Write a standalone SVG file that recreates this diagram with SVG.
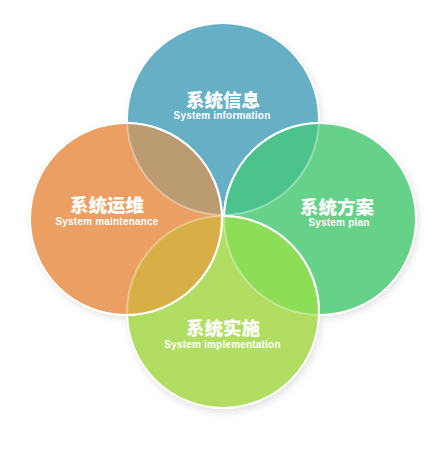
<svg xmlns="http://www.w3.org/2000/svg" width="445" height="455" viewBox="0 0 445 455">
<defs>
<filter id="sh" x="-20%" y="-20%" width="140%" height="140%"><feGaussianBlur stdDeviation="4"/></filter>
<style>
.c{stroke:#fff;stroke-width:2}
.zh{font-family:"Noto Sans CJK SC","Noto Sans",sans-serif;font-weight:900;font-size:18.5px;fill:#fff;text-anchor:middle}
.en{font-family:"Liberation Sans",Arial,sans-serif;font-weight:bold;font-size:10px;fill:#fff;text-anchor:middle;letter-spacing:0.2px}
.solid{fill:none;stroke:#fff;stroke-width:2}
.soft{fill:none;stroke:#fff;stroke-opacity:0.35;stroke-width:2}
</style>
</defs>
<rect width="445" height="455" fill="#fff"/>
<g id="shadow" fill="#000" opacity="0.12" filter="url(#sh)">
<circle cx="225" cy="122" r="96"/><circle cx="128" cy="222" r="96"/><circle cx="322" cy="222" r="96"/><circle cx="225" cy="316" r="96"/>
</g>
<g id="node-info"><circle class="c" cx="223" cy="119" r="96" fill="#66afc4"/></g>
<g id="node-plan"><circle class="c" cx="320" cy="219" r="96" fill="#66d188"/></g>
<g id="node-impl"><circle class="c" cx="223" cy="312" r="96" fill="#b1de62"/></g>
<g id="node-maint"><circle class="c" cx="126" cy="219" r="96" fill="#eb9f63"/></g>
<g id="overlaps">
<path d="M127.1,123 A96,96 0 0 0 221.9,215 A96,96 0 0 0 127.1,123Z" fill="#bb9c72"/>
<path d="M318.9,123 A96,96 0 0 1 224.1,215 A96,96 0 0 1 318.9,123Z" fill="#4cc38c"/>
<path d="M221.9,216 A96,96 0 0 1 127.1,315 A96,96 0 0 1 221.9,216Z" fill="#d8ae46"/>
<path d="M224.1,216 A96,96 0 0 0 318.9,315 A96,96 0 0 0 224.1,216Z" fill="#8ddd57"/>
<path class="soft" d="M127.1,123 A96,96 0 0 0 221.9,215"/>
<path class="solid" d="M221.9,215 A96,96 0 0 0 127.1,123"/>
<path class="soft" d="M318.9,123 A96,96 0 0 1 224.1,215"/>
<path class="solid" d="M224.1,215 A96,96 0 0 1 318.9,123"/>
<path class="soft" d="M127.1,315 A96,96 0 0 1 221.9,216"/>
<path class="solid" d="M221.9,216 A96,96 0 0 1 127.1,315"/>
<path class="soft" d="M224.1,216 A96,96 0 0 0 318.9,315"/>
<path class="solid" d="M318.9,315 A96,96 0 0 0 224.1,216"/>
</g>
<g id="labels">
<text class="zh" x="223" y="106.5">系统信息</text>
<text class="en" x="222" y="119">System information</text>
<text class="zh" x="107" y="211.5">系统运维</text>
<text class="en" x="107" y="224.5">System maintenance</text>
<text class="zh" x="337" y="213.5">系统方案</text>
<text class="en" x="339" y="226">System plan</text>
<text class="zh" x="223" y="334.5">系统实施</text>
<text class="en" x="222.5" y="348">System implementation</text>
</g>
</svg>
